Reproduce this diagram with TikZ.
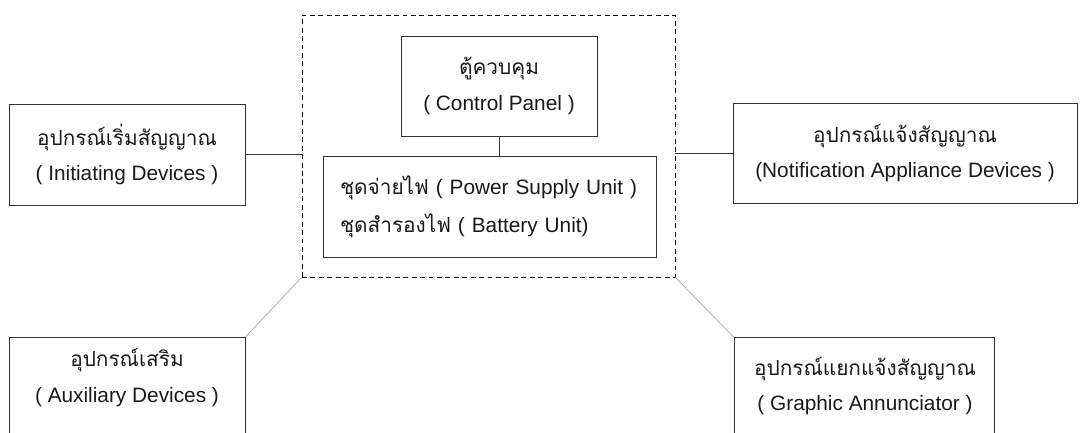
\documentclass[tikz,border=0pt]{standalone}
\usepackage{fontspec}
\setmainfont{Liberation Sans}
\newfontfamily\thaifont[Script=Thai]{Loma}
\usetikzlibrary{positioning}

\begin{document}
\begin{tikzpicture}[every node/.style={font=\fontsize{14.8}{25}\selectfont, text=black!90}, box/.style={draw=black!80, line width=0.6pt, align=center, inner sep=0pt}, link/.style={draw=black!80, line width=0.6pt}, slant/.style={draw=gray!70, line width=0.5pt}]
	\useasboundingbox (0,0) rectangle (27,-10.8);
	\clip (0,0) rectangle (27,-10.8);
	\node[box, draw=black, dash pattern=on 3.5pt off 2.5pt, minimum width=9.325cm, minimum height=6.55cm] (panel) at (12.2125,-3.65) {};
	\node[box, minimum width=4.9cm, minimum height=2.5cm] (cp) at (12.475,-2.15) {{\thaifont ตู้ควบคุม}\\( Control Panel )};
	\node[box, minimum width=8.325cm, minimum height=2.525cm, align=left, text width=7.475cm, inner xsep=0.425cm, font=\fontsize{14.8}{27}\selectfont] (psu) at (12.2375,-5.1625) {{\thaifont ชุดจ่ายไฟ} ( Power Supply Unit )\\{\thaifont ชุดสำรองไฟ} ( Battery Unit)};
	\node[box, minimum width=5.9cm, minimum height=2.525cm] (init) at (3.175,-3.8625) {{\thaifont อุปกรณ์เริ่มสัญญาณ}\\( Initiating Devices )};
	\node[box, minimum width=8.6cm, minimum height=2.5cm] (notif) at (22.625,-3.825) {{\thaifont อุปกรณ์แจ้งสัญญาณ}\\(Notification Appliance Devices )};
	\node[box, minimum width=5.9cm, minimum height=3cm, anchor=north] (aux) at (3.175,-8.425) {};
	\node[align=center] (auxtext) at (3.175,-9.4375) {{\thaifont อุปกรณ์เสริม}\\( Auxiliary Devices )};
	\node[box, minimum width=6.5cm, minimum height=3cm, anchor=north] (graph) at (21.6,-8.425) {};
	\node[align=center] (graphtext) at (21.625,-9.65) {{\thaifont อุปกรณ์แยกแจ้งสัญญาณ}\\( Graphic Annunciator )};
	\draw[link] (cp.south) -- (cp.south |- psu.north);
	\draw[link] (init.east) -- (init.east -| panel.west);
	\draw[link] (notif.west) -- (notif.west -| panel.east);
	\draw[slant] (aux.north east) -- (panel.south west);
	\draw[slant] (graph.north west) -- (panel.south east);
\end{tikzpicture}
\end{document}
